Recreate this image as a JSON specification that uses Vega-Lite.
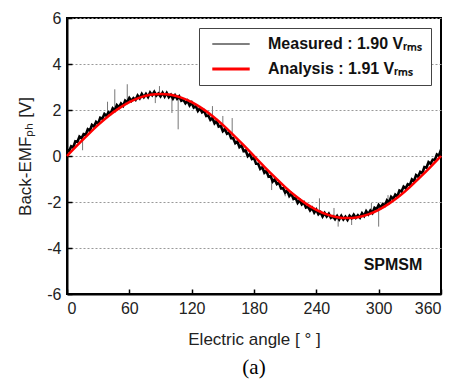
{
  "$schema": "https://vega.github.io/schema/vega-lite/v6.json",
  "width": 374,
  "height": 276,
  "autosize": {"type": "none"},
  "padding": {"left": 67, "top": 18, "right": 14, "bottom": 91},
  "background": "white",
  "config": {
    "view": {"stroke": "black", "strokeWidth": 2},
    "font": "Liberation Sans",
    "axis": {
      "domainColor": "black", "domainWidth": 2,
      "tickColor": "black", "tickWidth": 1.5, "tickSize": -5,
      "labelFont": "Liberation Sans", "labelFontSize": 16, "labelColor": "#222",
      "titleFont": "Liberation Sans", "titleFontSize": 17, "titleFontWeight": "normal", "titleColor": "#222"
    }
  },
  "title": {"text": "(a)", "orient": "bottom", "font": "Liberation Serif", "fontSize": 21, "fontWeight": "normal", "color": "black", "offset": 10},
  "datasets": {
    "measured": [
      {"a":0,"v":0.28},{"a":2,"v":0.21},{"a":4,"v":0.42},{"a":6,"v":0.37},{"a":8,"v":0.64},{"a":10,"v":0.61},{"a":12,"v":0.84},{"a":14,"v":0.77},{"a":16,"v":0.95},{"a":18,"v":0.92},
      {"a":20,"v":1.16},{"a":22,"v":1.10},{"a":24,"v":1.35},{"a":26,"v":1.28},{"a":28,"v":1.48},{"a":30,"v":1.40},{"a":32,"v":1.66},{"a":34,"v":1.62},{"a":36,"v":1.83},{"a":38,"v":1.74},
      {"a":40,"v":1.90},{"a":42,"v":1.85},{"a":44,"v":2.07},{"a":46,"v":1.98},{"a":48,"v":2.21},{"a":50,"v":2.11},{"a":52,"v":2.28},{"a":54,"v":2.18},{"a":56,"v":2.41},{"a":58,"v":2.34},
      {"a":60,"v":2.52},{"a":62,"v":2.40},{"a":64,"v":2.52},{"a":66,"v":2.44},{"a":68,"v":2.63},{"a":70,"v":2.51},{"a":72,"v":2.70},{"a":74,"v":2.56},{"a":76,"v":2.70},{"a":78,"v":2.56},
      {"a":80,"v":2.76},{"a":82,"v":2.64},{"a":84,"v":2.79},{"a":86,"v":2.63},{"a":88,"v":2.72},{"a":90,"v":2.59},{"a":92,"v":2.75},{"a":94,"v":2.58},{"a":96,"v":2.74},{"a":98,"v":2.56},
      {"a":100,"v":2.66},{"a":102,"v":2.49},{"a":104,"v":2.64},{"a":106,"v":2.49},{"a":108,"v":2.59},{"a":110,"v":2.40},{"a":112,"v":2.45},{"a":114,"v":2.29},{"a":116,"v":2.40},{"a":118,"v":2.20},
      {"a":120,"v":2.32},{"a":122,"v":2.11},{"a":124,"v":2.17},{"a":126,"v":1.96},{"a":128,"v":2.08},{"a":130,"v":1.90},{"a":132,"v":1.97},{"a":134,"v":1.74},{"a":136,"v":1.76},{"a":138,"v":1.57},
      {"a":140,"v":1.65},{"a":142,"v":1.42},{"a":144,"v":1.52},{"a":146,"v":1.28},{"a":148,"v":1.31},{"a":150,"v":1.08},{"a":152,"v":1.17},{"a":154,"v":0.97},{"a":156,"v":1.02},{"a":158,"v":0.77},
      {"a":160,"v":0.77},{"a":162,"v":0.56},{"a":164,"v":0.63},{"a":166,"v":0.39},{"a":168,"v":0.46},{"a":170,"v":0.21},{"a":172,"v":0.24},{"a":174,"v":-0.01},{"a":176,"v":0.08},{"a":178,"v":-0.13},
      {"a":180,"v":-0.09},{"a":182,"v":-0.34},{"a":184,"v":-0.34},{"a":186,"v":-0.56},{"a":188,"v":-0.49},{"a":190,"v":-0.73},{"a":192,"v":-0.65},{"a":194,"v":-0.90},{"a":196,"v":-0.87},{"a":198,"v":-1.11},
      {"a":200,"v":-1.01},{"a":202,"v":-1.22},{"a":204,"v":-1.16},{"a":206,"v":-1.41},{"a":208,"v":-1.40},{"a":210,"v":-1.59},{"a":212,"v":-1.51},{"a":214,"v":-1.74},{"a":216,"v":-1.64},{"a":218,"v":-1.87},
      {"a":220,"v":-1.82},{"a":222,"v":-2.04},{"a":224,"v":-1.92},{"a":226,"v":-2.10},{"a":228,"v":-2.02},{"a":230,"v":-2.24},{"a":232,"v":-2.20},{"a":234,"v":-2.37},{"a":236,"v":-2.26},{"a":238,"v":-2.46},
      {"a":240,"v":-2.33},{"a":242,"v":-2.53},{"a":244,"v":-2.44},{"a":246,"v":-2.63},{"a":248,"v":-2.48},{"a":250,"v":-2.63},{"a":252,"v":-2.51},{"a":254,"v":-2.69},{"a":256,"v":-2.62},{"a":258,"v":-2.75},
      {"a":260,"v":-2.61},{"a":262,"v":-2.76},{"a":264,"v":-2.60},{"a":266,"v":-2.76},{"a":268,"v":-2.64},{"a":270,"v":-2.78},{"a":272,"v":-2.60},{"a":274,"v":-2.70},{"a":276,"v":-2.55},{"a":278,"v":-2.69},
      {"a":280,"v":-2.58},{"a":282,"v":-2.68},{"a":284,"v":-2.49},{"a":286,"v":-2.61},{"a":288,"v":-2.40},{"a":290,"v":-2.53},{"a":292,"v":-2.37},{"a":294,"v":-2.48},{"a":296,"v":-2.25},{"a":298,"v":-2.32},
      {"a":300,"v":-2.13},{"a":302,"v":-2.24},{"a":304,"v":-2.09},{"a":306,"v":-2.15},{"a":308,"v":-1.93},{"a":310,"v":-2.02},{"a":312,"v":-1.78},{"a":314,"v":-1.87},{"a":316,"v":-1.68},{"a":318,"v":-1.76},
      {"a":320,"v":-1.50},{"a":322,"v":-1.54},{"a":324,"v":-1.33},{"a":326,"v":-1.41},{"a":328,"v":-1.23},{"a":330,"v":-1.27},{"a":332,"v":-1.02},{"a":334,"v":-1.09},{"a":336,"v":-0.83},{"a":338,"v":-0.90},
      {"a":340,"v":-0.69},{"a":342,"v":-0.75},{"a":344,"v":-0.48},{"a":346,"v":-0.51},{"a":348,"v":-0.27},{"a":350,"v":-0.34},{"a":352,"v":-0.16},{"a":354,"v":-0.18},{"a":356,"v":0.07},{"a":358,"v":0.01},
      {"a":360,"v":0.28}
    ],
    "analysis": [
      {"a":0,"v":0},{"a":10,"v":0.47},{"a":20,"v":0.92},{"a":30,"v":1.35},{"a":40,"v":1.74},{"a":50,"v":2.07},{"a":60,"v":2.34},{"a":70,"v":2.54},{"a":80,"v":2.66},{"a":90,"v":2.70},
      {"a":100,"v":2.66},{"a":110,"v":2.54},{"a":120,"v":2.34},{"a":130,"v":2.07},{"a":140,"v":1.74},{"a":150,"v":1.35},{"a":160,"v":0.92},{"a":170,"v":0.47},{"a":180,"v":0},
      {"a":190,"v":-0.47},{"a":200,"v":-0.92},{"a":210,"v":-1.35},{"a":220,"v":-1.74},{"a":230,"v":-2.07},{"a":240,"v":-2.34},{"a":250,"v":-2.54},{"a":260,"v":-2.66},{"a":270,"v":-2.70},
      {"a":280,"v":-2.66},{"a":290,"v":-2.54},{"a":300,"v":-2.34},{"a":310,"v":-2.07},{"a":320,"v":-1.74},{"a":330,"v":-1.35},{"a":340,"v":-0.92},{"a":350,"v":-0.47},{"a":360,"v":0}
    ],
    "spikes": [
      {"a":15,"lo":0.25,"hi":0.85},{"a":39,"lo":1.75,"hi":2.36},{"a":46,"lo":1.95,"hi":2.9},{"a":58,"lo":2.25,"hi":3.12},
      {"a":85,"lo":2.3,"hi":2.65},{"a":89,"lo":2.65,"hi":3.04},{"a":101,"lo":1.87,"hi":2.6},{"a":107,"lo":1.16,"hi":2.55},
      {"a":140,"lo":1.58,"hi":2.17},{"a":150,"lo":1.15,"hi":1.74},{"a":159,"lo":0.72,"hi":1.65},{"a":197,"lo":-1.48,"hi":-0.85},
      {"a":210,"lo":-1.75,"hi":-1.45},{"a":243,"lo":-2.45,"hi":-1.84},{"a":257,"lo":-2.66,"hi":-2.26},{"a":261,"lo":-3.07,"hi":-2.67},
      {"a":274,"lo":-3.0,"hi":-2.7},{"a":293,"lo":-2.4,"hi":-2.04},{"a":300,"lo":-3.07,"hi":-2.2},{"a":309,"lo":-2.1,"hi":-1.7}
    ],
    "label": [{"a":342,"v":-4.74,"t":"SPMSM"}]
  },
  "layer": [
    {
      "data": {"name": "spikes"},
      "mark": {"type": "rule", "color": "#777", "strokeWidth": 1},
      "encoding": {
        "x": {"field": "a", "type": "quantitative"},
        "y": {"field": "lo", "type": "quantitative"},
        "y2": {"field": "hi"}
      }
    },
    {
      "data": {"name": "measured"},
      "mark": {"type": "line", "strokeWidth": 2.6},
      "encoding": {
        "x": {"field": "a", "type": "quantitative", "scale": {"domain": [0, 360], "nice": false},
          "axis": {"values": [0, 60, 120, 180, 240, 300, 360], "title": "Electric angle [ ° ]", "labelPadding": 11, "titlePadding": 15, "grid": false}},
        "y": {"field": "v", "type": "quantitative", "scale": {"domain": [-6, 6], "nice": false},
          "axis": {"values": [-6, -4, -2, 0, 2, 4, 6], "title": "Back-EMFₚₕ [V]", "labelPadding": 11, "titlePadding": 12, "grid": true, "gridColor": "#999", "gridDash": [2, 2], "gridWidth": 1,
            "labelExpr": "replace(datum.label, '−', '-')"}},
        "color": {"datum": "Measured", "type": "nominal",
          "scale": {"domain": ["Measured", "Analysis"], "range": ["black", "#ff0000"]},
          "legend": {
            "title": null, "orient": "top-right", "offset": 10,
            "strokeColor": "#444", "fillColor": "white", "padding": 8,
            "symbolType": "stroke", "symbolSize": 1400, "symbolStrokeWidth": 1.2, "symbolOffset": 16,
            "labelFont": "Liberation Sans", "labelFontSize": 16, "labelFontWeight": "bold", "labelColor": "#111",
            "labelOffset": 29, "rowPadding": 9, "labelLimit": 300,
            "labelExpr": "datum.label == 'Measured' ? 'Measured : 1.90 Vᵣₘₛ\u00a0\u00a0' : 'Analysis : 1.91 Vᵣₘₛ\u00a0\u00a0'",
            "encode": {"symbols": {"update": {"strokeWidth": {"signal": "datum.value == 'Analysis' ? 3 : 1"}}}}
          }
        }
      }
    },
    {
      "data": {"name": "analysis"},
      "mark": {"type": "line", "strokeWidth": 2.5, "interpolate": "natural"},
      "encoding": {
        "x": {"field": "a", "type": "quantitative"},
        "y": {"field": "v", "type": "quantitative"},
        "color": {"datum": "Analysis", "type": "nominal"}
      }
    },
    {
      "data": {"name": "label"},
      "mark": {"type": "text", "align": "right", "baseline": "middle", "font": "Liberation Sans", "fontSize": 16, "fontWeight": "bold", "color": "#111"},
      "encoding": {
        "x": {"field": "a", "type": "quantitative"},
        "y": {"field": "v", "type": "quantitative"},
        "text": {"field": "t"}
      }
    }
  ]
}
